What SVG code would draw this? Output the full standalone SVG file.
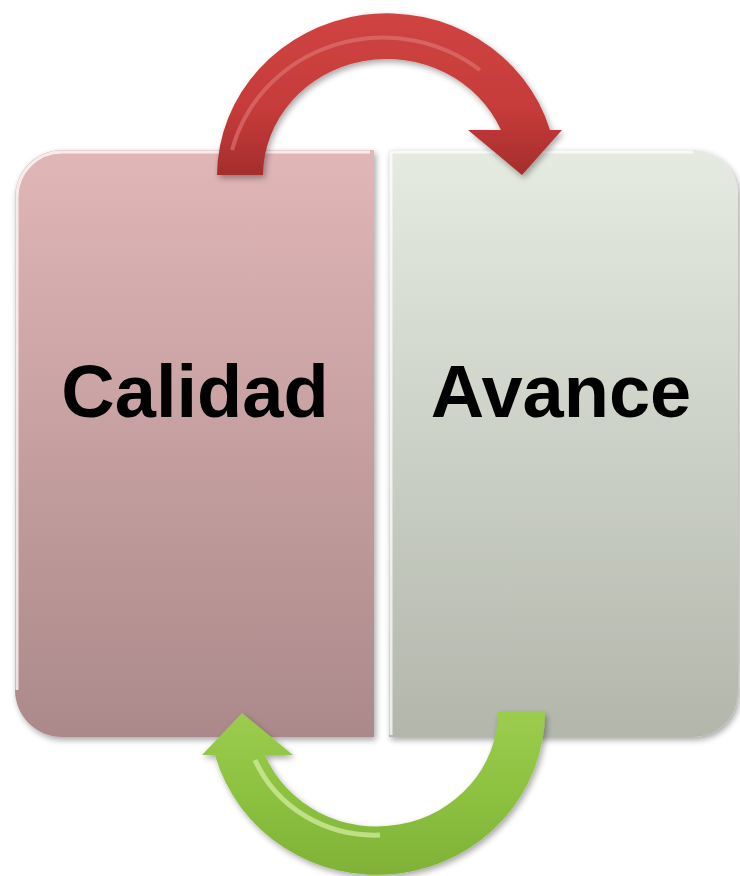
<svg xmlns="http://www.w3.org/2000/svg" width="740" height="876" viewBox="0 0 740 876">
<defs>
<linearGradient id="gPink" x1="0" y1="0" x2="0" y2="1">
<stop offset="0" stop-color="#e1b6b7"/>
<stop offset="1" stop-color="#ab898a"/>
</linearGradient>
<linearGradient id="gGrey" x1="0" y1="0" x2="0" y2="1">
<stop offset="0" stop-color="#e6ebe1"/>
<stop offset="1" stop-color="#b2b6ab"/>
</linearGradient>
<linearGradient id="gRed" x1="0" y1="0" x2="0" y2="1">
<stop offset="0" stop-color="#cf4442"/>
<stop offset="0.6" stop-color="#c53b3a"/>
<stop offset="1" stop-color="#a52d2d"/>
</linearGradient>
<linearGradient id="gGreen" x1="0" y1="0" x2="0" y2="1">
<stop offset="0" stop-color="#9ccc4e"/>
<stop offset="0.5" stop-color="#8dc13f"/>
<stop offset="1" stop-color="#7fb236"/>
</linearGradient>
<filter id="shadow" x="-10%" y="-10%" width="120%" height="120%">
<feGaussianBlur in="SourceAlpha" stdDeviation="3"/>
<feOffset dx="2" dy="3" result="b"/>
<feComponentTransfer><feFuncA type="linear" slope="0.35"/></feComponentTransfer>
<feMerge><feMergeNode/><feMergeNode in="SourceGraphic"/></feMerge>
</filter>
</defs>
<style>
.lbl{font-family:"Liberation Sans",Arial,sans-serif;font-weight:bold;font-size:74px;fill:#000;text-anchor:middle}
.hl{fill:none;stroke:#ffffff;stroke-opacity:0.75;stroke-width:3}
</style>
<g id="calidad" filter="url(#shadow)">
<path d="M374 150 H62 A47 47 0 0 0 15 197 V690 A47 47 0 0 0 62 737 H374 Z" fill="url(#gPink)"/>
<path class="hl" d="M370 152 H62 A45 45 0 0 0 17 197 V690"/>
<text class="lbl" x="195" y="417">Calidad</text>
</g>
<g id="avance" filter="url(#shadow)">
<path d="M389 150 H693 A45 45 0 0 1 738 195 V692 A45 45 0 0 1 693 737 H389 Z" fill="url(#gGrey)"/>
<path class="hl" d="M391 735 V152 H693"/>
<text class="lbl" x="561" y="417">Avance</text>
</g>
<g id="connectors" filter="url(#shadow)">
<path d="M217 175 A170 163 0 0 1 550 130 L562 130 L522 175 L468 130 L501 130 A124 117 0 0 0 263 175 Z" fill="url(#gRed)"/>
<path d="M232 150 A156 150 0 0 1 480 70" fill="none" stroke="#e07a78" stroke-width="4" stroke-opacity="0.6"/>
<path d="M545 712 A168 163 0 0 1 215 755 L202 755 L242 713 L293 755 L265 755 A121 115 0 0 0 498 712 Z" fill="url(#gGreen)"/>
<path d="M255 760 A130 125 0 0 0 380 835" fill="none" stroke="#d6f0a6" stroke-width="5" stroke-opacity="0.7"/>
</g>
</svg>
